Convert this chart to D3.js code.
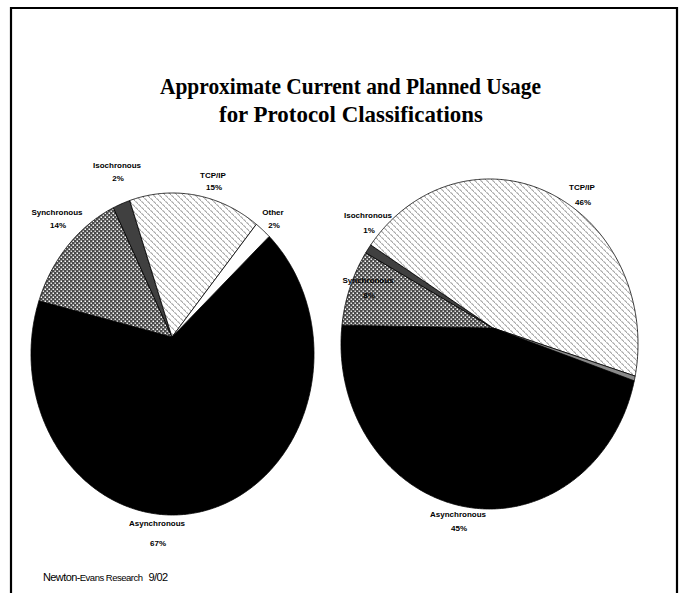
<!DOCTYPE html>
<html>
<head>
<meta charset="utf-8">
<script src="https://cdn.jsdelivr.net/npm/d3@7"></script>
<style>
  html, body { margin: 0; padding: 0; background: #fff; }
  svg { display: block; }
</style>
</head>
<body>
<script>
// ---- data ----
const categories = ["Asynchronous", "Synchronous", "Isochronous", "TCP/IP", "Other"];
const currentValues = [67, 14, 2, 15, 2];
const plannedValues = [44.6, 8.2, 1.0, 45.7, 0.5];
const titleLines = ["Approximate Current and Planned Usage", "for Protocol Classifications"];
const footerParts = ["Newton-", "Evans Research", "9/02"];

// ---- layout ----
const W = 681, H = 593;
const deg = Math.PI / 180;
const pies = [
  { values: currentValues, cx: 172.5, cy: 354, rx: 141.5, ry: 161, ax: 172, ay: 337, start: 44 * deg,
    labels: { "Asynchronous": [157, 526, 20], "Synchronous": [57, 215, 13], "Isochronous": [117, 168, 13], "TCP/IP": [213, 178, 12], "Other": [273, 215, 13] } },
  { values: plannedValues, cx: 489.5, cy: 344, rx: 148.5, ry: 165, ax: 493, ay: 328, start: 110.5 * deg,
    labels: { "Asynchronous": [458, 517, 14], "Synchronous": [368, 283, 15], "Isochronous": [368, 218, 15], "TCP/IP": [582, 190, 15] } }
];
const fills = {
  "Asynchronous": "#000",
  "Synchronous": "url(#patSync)",
  "Isochronous": "#404040",
  "TCP/IP": "url(#patTcp)",
  "Other": "#fff"
};

const svg = d3.select("body").append("svg").attr("width", W).attr("height", H);
const defs = svg.append("defs");

// Synchronous pattern: dark grey with white dots
const ps = defs.append("pattern").attr("id", "patSync").attr("patternUnits", "userSpaceOnUse")
  .attr("width", 4).attr("height", 4);
ps.append("rect").attr("width", 4).attr("height", 4).attr("fill", "#4a4a4a");
ps.append("rect").attr("x", 0.5).attr("y", 0.5).attr("width", 1.5).attr("height", 1.5).attr("fill", "#fff");
ps.append("rect").attr("x", 2.5).attr("y", 2.5).attr("width", 1.5).attr("height", 1.5).attr("fill", "#e0e0e0");

// TCP/IP pattern: light scales
const pt = defs.append("pattern").attr("id", "patTcp").attr("patternUnits", "userSpaceOnUse")
  .attr("width", 6).attr("height", 6);
pt.append("rect").attr("width", 6).attr("height", 6).attr("fill", "#fff");
pt.append("path").attr("d", "M0.3,0.6 Q2.4,0.9 2.7,2.8 M3.3,3.6 Q5.4,3.9 5.7,5.8")
  .attr("fill", "none").attr("stroke", "#8a8a8a").attr("stroke-width", 1);

// frame
svg.append("path")
  .attr("d", `M11,${H + 5} L11,8 L677,8 L677,${H + 5}`)
  .attr("fill", "none").attr("stroke", "#000").attr("stroke-width", 2.2);

// title
const title = svg.append("text")
  .attr("text-anchor", "middle")
  .attr("font-family", "'Liberation Serif', 'Times New Roman', serif")
  .attr("font-weight", "bold")
  .attr("font-size", 23)
  .attr("fill", "#000");
title.append("tspan").attr("x", 350.5).attr("y", 94).attr("textLength", 381).attr("lengthAdjust", "spacingAndGlyphs").text(titleLines[0]);
title.append("tspan").attr("x", 351).attr("y", 122).attr("textLength", 264).attr("lengthAdjust", "spacingAndGlyphs").text(titleLines[1]);

// ray from apex to ellipse boundary
function boundary(p, a) {
  const dx = Math.sin(a), dy = -Math.cos(a);
  const ox = p.ax - p.cx, oy = p.ay - p.cy;
  const A = (dx * dx) / (p.rx * p.rx) + (dy * dy) / (p.ry * p.ry);
  const B = 2 * ((ox * dx) / (p.rx * p.rx) + (oy * dy) / (p.ry * p.ry));
  const C = (ox * ox) / (p.rx * p.rx) + (oy * oy) / (p.ry * p.ry) - 1;
  const t = (-B + Math.sqrt(B * B - 4 * A * C)) / (2 * A);
  return [p.ax + t * dx, p.ay + t * dy];
}

pies.forEach(p => {
  const data = categories.map((c, i) => ({ name: c, value: p.values[i] }));
  const arcs = d3.pie().sort(null).value(d => d.value)
    .startAngle(p.start).endAngle(p.start + 2 * Math.PI)(data);
  const g = svg.append("g");
  g.selectAll("path.slice").data(arcs).join("path")
    .attr("class", "slice")
    .attr("d", d => {
      const path = d3.path();
      path.moveTo(p.ax, p.ay);
      const n = Math.max(2, Math.ceil((d.endAngle - d.startAngle) / (0.5 * deg)));
      for (let k = 0; k <= n; k++) {
        const a = d.startAngle + (d.endAngle - d.startAngle) * k / n;
        const [x, y] = boundary(p, a);
        path.lineTo(x, y);
      }
      path.closePath();
      return path.toString();
    })
    .attr("fill", d => d.data.name === "Other" && p.values === plannedValues ? "#8a8a8a" : fills[d.data.name])
    .attr("stroke", "#000").attr("stroke-width", 0.8).attr("stroke-linejoin", "round");

  // labels
  const lab = g.selectAll("text.lab").data(arcs.filter(d => p.labels[d.data.name])).join("text")
    .attr("class", "lab")
    .attr("text-anchor", "middle")
    .attr("font-family", "'Liberation Sans', Arial, sans-serif")
    .attr("font-weight", "bold")
    .attr("font-size", 8)
    .attr("fill", "#000");
  lab.append("tspan")
    .attr("x", d => p.labels[d.data.name][0])
    .attr("y", d => p.labels[d.data.name][1])
    .text(d => d.data.name);
  lab.append("tspan")
    .attr("x", d => p.labels[d.data.name][0] + 1)
    .attr("y", d => p.labels[d.data.name][1] + p.labels[d.data.name][2])
    .text(d => Math.round(d.data.value) + "%");
});

// footer
const foot = svg.append("text")
  .attr("x", 43).attr("y", 581)
  .attr("font-family", "'Liberation Sans', Arial, sans-serif")
  .attr("fill", "#000");
foot.append("tspan").attr("font-size", 11).attr("letter-spacing", -0.6).text(footerParts[0]);
foot.append("tspan").attr("font-size", 9.5).attr("letter-spacing", -0.5).text(footerParts[1]);
foot.append("tspan").attr("font-size", 11).attr("letter-spacing", -0.6).attr("dx", 6).text(footerParts[2]);
</script>
</body>
</html>
